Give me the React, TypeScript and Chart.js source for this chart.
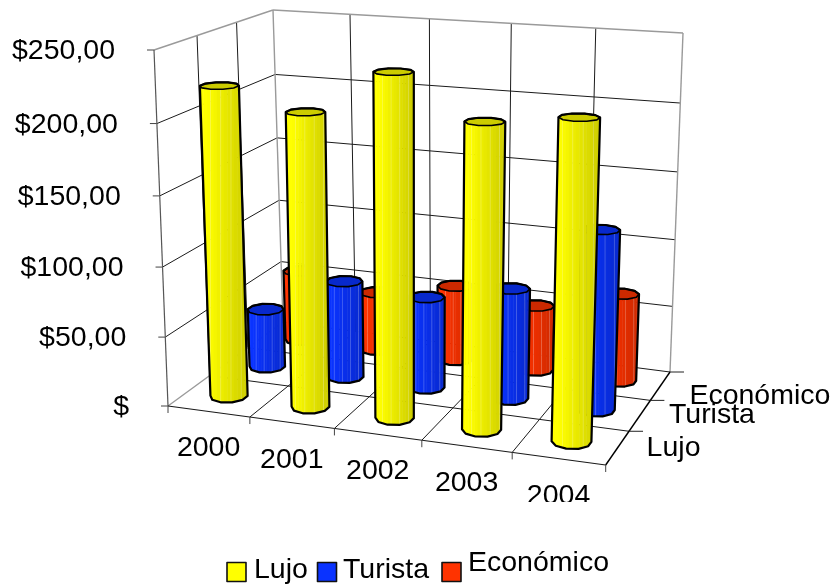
import React, { useEffect, useRef } from "react";
import { Chart, registerables } from "chart.js";

Chart.register(...registerables);

const years = ["2000", "2001", "2002", "2003", "2004"];
const classes = ["Lujo", "Turista", "Económico"];
const lujo = [222, 208, 239, 210, 217];
const turista = [44, 72, 67, 80, 128];
const economico = [55, 45, 57, 49, 65];
const classColors = ["#FFFF00", "#0A33FF", "#FF3300"];

type Pt = [number, number];

// Screen corners of the chart box: floor and ceiling, named front/back + left/right.
const FLOOR = { fl: [168, 406] as Pt, fr: [605.7, 465] as Pt, br: [670, 372] as Pt, bl: [283, 322] as Pt };
const CEIL = { fl: [154, 50] as Pt, fr: [617, 77] as Pt, br: [683, 33] as Pt, bl: [273, 10] as Pt };
const HEIGHT_BIAS = 0.96;
const WIDTH_BIAS = 0.943;
const RADIUS_X = 0.042;
const RADIUS_Z = 0.07;
const SIDES = 10;
const FONT = '28.5px "Liberation Sans", Arial, sans-serif';

function quadMap(q: typeof FLOOR) {
  const { fl, fr, br, bl } = q;
  const rx = br[0] + fl[0] - fr[0] - bl[0];
  const ry = br[1] + fl[1] - fr[1] - bl[1];
  const a1 = fr[0] - br[0], a2 = fr[1] - br[1];
  const c1 = bl[0] - br[0], c2 = bl[1] - br[1];
  const det = a1 * c2 - c1 * a2;
  const a = (rx * c2 - c1 * ry) / det;
  const c = (a1 * ry - rx * a2) / det;
  return (u: number, v: number): Pt => {
    const w = 1 + a * u + c * v;
    const px = fl[0] + u * ((1 + a) * fr[0] - fl[0]) + v * ((1 + c) * bl[0] - fl[0]);
    const py = fl[1] + u * ((1 + a) * fr[1] - fl[1]) + v * ((1 + c) * bl[1] - fl[1]);
    return [px / w, py / w];
  };
}

const floorAt = quadMap(FLOOR);
const ceilAt = quadMap(CEIL);

const bias = (d: number, r: number) => d / (d + (1 - d) / r);

// x and z run 0..1 across and into the box, t runs 0..1 from floor to ceiling.
function project(x: number, t: number, z: number): Pt {
  const u = bias(x, WIDTH_BIAS);
  const f = floorAt(u, z);
  const c = ceilAt(u, z);
  const k = bias(t, HEIGHT_BIAS);
  return [f[0] + (c[0] - f[0]) * k, f[1] + (c[1] - f[1]) * k];
}

function hull(points: Pt[]): Pt[] {
  const p = [...points].sort((m, n) => m[0] - n[0] || m[1] - n[1]);
  const cross = (o: Pt, m: Pt, n: Pt) => (m[0] - o[0]) * (n[1] - o[1]) - (m[1] - o[1]) * (n[0] - o[0]);
  const walk = (list: Pt[]) => {
    const out: Pt[] = [];
    for (const pt of list) {
      while (out.length >= 2 && cross(out[out.length - 2], out[out.length - 1], pt) <= 0) out.pop();
      out.push(pt);
    }
    out.pop();
    return out;
  };
  return [...walk(p), ...walk([...p].reverse())];
}

function shade(hex: string, k: number): string {
  const n = parseInt(hex.slice(1), 16);
  return `rgb(${Math.round(((n >> 16) & 255) * k)},${Math.round(((n >> 8) & 255) * k)},${Math.round((n & 255) * k)})`;
}

function line(ctx: CanvasRenderingContext2D, a: Pt, b: Pt, color: string, width: number) {
  ctx.strokeStyle = color;
  ctx.lineWidth = width;
  ctx.beginPath();
  ctx.moveTo(a[0], a[1]);
  ctx.lineTo(b[0], b[1]);
  ctx.stroke();
}

function polygon(ctx: CanvasRenderingContext2D, pts: Pt[]) {
  ctx.beginPath();
  pts.forEach((p, i) => (i ? ctx.lineTo(p[0], p[1]) : ctx.moveTo(p[0], p[1])));
  ctx.closePath();
}

function drawCylinder(ctx: CanvasRenderingContext2D, cx: number, cz: number, t: number, color: string) {
  const ring = (h: number): Pt[] =>
    Array.from({ length: SIDES }, (_, i) => {
      const th = ((i + 0.5) / SIDES) * Math.PI * 2;
      return project(cx + RADIUS_X * Math.cos(th), h, cz + RADIUS_Z * Math.sin(th));
    });
  const low = ring(0);
  const high = ring(t);
  const outline = hull([...low, ...high]);
  const xs = outline.map((p) => p[0]);
  const minX = Math.min(...xs);
  const maxX = Math.max(...xs);

  // Vertical bands, brightest on the left and falling off to the right.
  const slices = 14;
  const spanX = maxX - minX;
  ctx.save();
  polygon(ctx, outline);
  ctx.clip();
  for (let i = 0; i < slices; i++) {
    const s = (i + 0.5) / slices;
    ctx.fillStyle = shade(color, 1 - 0.2 * Math.max(0, s - 0.15) / 0.85);
    ctx.fillRect(minX + (i / slices) * spanX, 0, spanX / slices + 0.5, 584);
    if (i > 0 && i % 3 === 0) {
      ctx.fillStyle = "rgba(255,255,255,0.28)";
      ctx.fillRect(minX + (i / slices) * spanX, 0, 0.8, 584);
    }
  }
  ctx.restore();

  polygon(ctx, high);
  ctx.fillStyle = shade(color, 0.8);
  ctx.fill();

  ctx.lineJoin = "round";
  ctx.strokeStyle = "#000";
  ctx.lineWidth = 2.2;
  polygon(ctx, outline);
  ctx.stroke();
  ctx.lineWidth = 1.6;
  polygon(ctx, high);
  ctx.stroke();
}

const box3d = {
  id: "box3d",
  beforeDatasetsDraw(chart: any) {
    const { ctx } = chart;
    const xs = chart.scales.x;
    const ys = chart.scales.y;
    const zs = chart.scales.z;
    const dec = (scale: any, v: number) => scale.getDecimalForPixel(scale.getPixelForValue(v));
    const ink = "#1a1a1a";
    const frame = "#9a9a9a";

    ctx.save();
    ctx.lineCap = "butt";
    ctx.fillStyle = "#000";
    ctx.font = FONT;

    // Value gridlines along the left and back walls, with their tick labels.
    for (const tick of ys.ticks) {
      const t = dec(ys, tick.value);
      const front = project(0, t, 0);
      const corner = project(0, t, 1);
      const right = project(1, t, 1);
      if (t > 0 && t < 1) {
        line(ctx, front, corner, ink, 1);
        line(ctx, corner, right, ink, 1);
      }
      line(ctx, [front[0] - 7, front[1]], front, "#444", 1);
      ctx.textAlign = "right";
      ctx.textBaseline = "middle";
      ctx.fillText(tick.label, front[0] - 39, front[1] + 1.5);
    }

    // Cross-lines for the categories on floor and back wall.
    const nx = xs.getLabels().length;
    for (let i = 1; i < nx; i++) {
      const u = i / nx;
      line(ctx, project(u, 0, 0), project(u, 0, 1), ink, 1);
      line(ctx, project(u, 0, 1), project(u, 1, 1), ink, 1);
    }
    // Cross-lines for the series on floor and left wall.
    const nz = zs.getLabels().length;
    for (let i = 1; i < nz; i++) {
      const v = i / nz;
      line(ctx, project(0, 0, v), project(1, 0, v), ink, 1);
      line(ctx, project(0, 0, v), project(0, 1, v), ink, 1);
    }

    // Box frame.
    line(ctx, project(0, 1, 0), project(0, 1, 1), frame, 1.4);
    line(ctx, project(0, 1, 1), project(1, 1, 1), frame, 1.4);
    line(ctx, project(0, 1, 1), project(0, 0, 1), frame, 1.4);
    line(ctx, project(1, 1, 1), project(1, 0, 1), frame, 1.4);
    line(ctx, project(0, 0, 0), project(0, 0, 1), frame, 1.4);
    line(ctx, project(0, 0, 1), project(1, 0, 1), ink, 1);
    line(ctx, project(0, 0, 0), project(0, 1, 0), "#555", 1.2);
    line(ctx, project(0, 0, 0), project(1, 0, 0), ink, 1.2);
    line(ctx, project(1, 0, 0), project(1, 0, 1), "#000", 1.4);

    // Ticks and labels of the category edge; the last label stops at the drawing's edge.
    for (let i = 0; i <= nx; i++) {
      const p = project(i / nx, 0, 0);
      line(ctx, p, [p[0], p[1] + 7], "#444", 1);
    }
    ctx.textAlign = "center";
    xs.getLabels().forEach((label: string, i: number) => {
      const p = project(dec(xs, i), 0, 0);
      ctx.save();
      ctx.beginPath();
      ctx.rect(0, 0, 837, 502);
      ctx.clip();
      ctx.fillText(label, p[0], p[1] + 37);
      ctx.restore();
    });

    // Ticks and labels of the depth edge, back to front so nearer names sit on top.
    for (let i = 1; i <= nz; i++) {
      const p = project(1, 0, i / nz);
      line(ctx, p, [p[0] + 14, p[1]], "#222", 1);
    }
    ctx.textAlign = "left";
    for (let i = nz - 1; i >= 0; i--) {
      const p = project(1, 0, dec(zs, i));
      ctx.save();
      ctx.beginPath();
      ctx.rect(0, 0, 837, i === nz - 1 ? 404.5 : 584);
      ctx.clip();
      ctx.fillText(zs.getLabels()[i], p[0] + 29, p[1] + (i === nz - 1 ? 10 : 0));
      ctx.restore();
    }

    // Cylinders, farthest row first.
    for (let s = chart.data.datasets.length - 1; s >= 0; s--) {
      const ds = chart.data.datasets[s];
      ds.data.forEach((value: number, i: number) => {
        drawCylinder(ctx, dec(xs, i), dec(zs, s), dec(ys, value), ds.backgroundColor);
      });
    }

    // Legend row: the last entry's name sits a little higher than the others.
    const slots = [
      { box: 227, text: 254, y: 570 },
      { box: 317.5, text: 343, y: 570 },
      { box: 442, text: 468, y: 563 },
    ];
    ctx.textBaseline = "middle";
    chart.data.datasets.forEach((ds: any, s: number) => {
      const slot = slots[s];
      ctx.fillStyle = ds.backgroundColor;
      ctx.fillRect(slot.box, 562.5, 19, 19);
      ctx.strokeStyle = "#111";
      ctx.lineWidth = 1.6;
      ctx.strokeRect(slot.box, 562.5, 19, 19);
      ctx.fillStyle = "#000";
      ctx.fillText(ds.label, slot.text, slot.y);
    });

    ctx.restore();
    return false;
  },
};

export default function App() {
  const ref = useRef<HTMLCanvasElement>(null);
  useEffect(() => {
    const series = [lujo, turista, economico];
    const chart = new Chart(ref.current!, {
      type: "bar",
      data: {
        labels: years,
        datasets: classes.map((label, i) => ({
          label,
          data: series[i],
          backgroundColor: classColors[i],
        })),
      },
      plugins: [box3d],
      options: {
        responsive: false,
        animation: false,
        plugins: { legend: { display: false }, tooltip: { enabled: false } },
        scales: {
          x: { display: false, ticks: { autoSkip: false } },
          z: { type: "category", axis: "x", labels: classes, display: false, offset: true, ticks: { autoSkip: false } },
          y: {
            display: false,
            min: 0,
            max: 250,
            ticks: {
              stepSize: 50,
              callback: (v: any) => (Number(v) === 0 ? "$" : `$${Number(v)},00`),
            },
          },
        },
      },
    } as any);
    return () => chart.destroy();
  }, []);
  return (
    <div style={{ position: "fixed", inset: 0, background: "#fff" }}>
      <canvas ref={ref} width={837} height={584} style={{ display: "block" }} />
    </div>
  );
}
